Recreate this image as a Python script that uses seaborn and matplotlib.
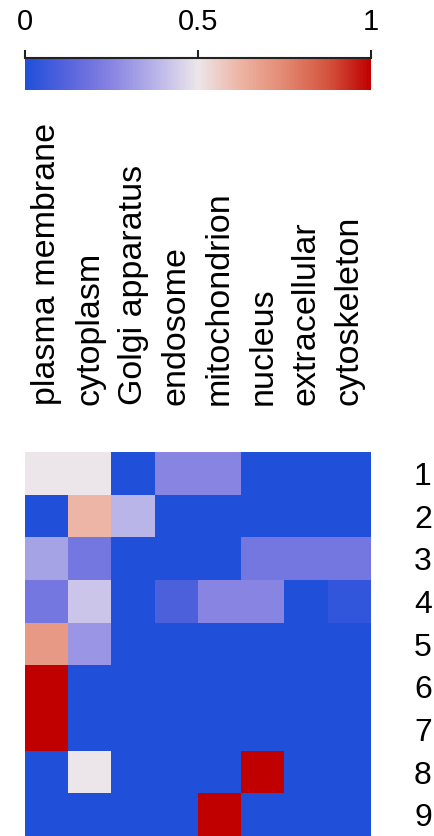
import numpy as np
import pandas as pd
import seaborn as sns
import matplotlib
matplotlib.use("Agg")
import matplotlib.pyplot as plt
from matplotlib.colors import LinearSegmentedColormap

plt.rcParams["font.family"] = ["Liberation Sans", "DejaVu Sans"]

# localisation categories (columns) and clusters (rows)
locations = ["plasma membrane", "cytoplasm", "Golgi apparatus", "endosome",
             "mitochondrion", "nucleus", "extracellular", "cytoskeleton"]
clusters = ["1", "2", "3", "4", "5", "6", "7", "8", "9"]

# fraction per cluster
cluster1 = [0.50, 0.50, 0.00, 0.25, 0.25, 0.00, 0.00, 0.00]
cluster2 = [0.00, 0.62, 0.38, 0.00, 0.00, 0.00, 0.00, 0.00]
cluster3 = [0.33, 0.20, 0.00, 0.00, 0.00, 0.20, 0.20, 0.20]
cluster4 = [0.20, 0.42, 0.00, 0.10, 0.25, 0.25, 0.00, 0.04]
cluster5 = [0.70, 0.30, 0.00, 0.00, 0.00, 0.00, 0.00, 0.00]
cluster6 = [1.00, 0.00, 0.00, 0.00, 0.00, 0.00, 0.00, 0.00]
cluster7 = [1.00, 0.00, 0.00, 0.00, 0.00, 0.00, 0.00, 0.00]
cluster8 = [0.00, 0.50, 0.00, 0.00, 0.00, 1.00, 0.00, 0.00]
cluster9 = [0.00, 0.00, 0.00, 0.00, 1.00, 0.00, 0.00, 0.00]

cbar_ticks = [0, 0.5, 1]
cbar_labels = ["0", "0.5", "1"]

df = pd.DataFrame([cluster1, cluster2, cluster3, cluster4, cluster5,
                   cluster6, cluster7, cluster8, cluster9],
                  index=clusters, columns=locations)

# blue - white - red ramp
cmap = LinearSegmentedColormap.from_list("bwr_lab", [
    (0.0, "#2050DA"),
    (0.125, "#5864DD"),
    (0.25, "#8884E2"),
    (0.375, "#B8B3E9"),
    (0.5, "#ECE6EA"),
    (0.625, "#EDB3A3"),
    (0.75, "#E38972"),
    (0.875, "#D4553F"),
    (1.0, "#C00000"),
])

fig = plt.figure(figsize=(4.35, 8.36), dpi=100)
ax = fig.add_axes([25 / 435, 0, 346 / 435, 384 / 836])
cax = fig.add_axes([25 / 435, (836 - 90) / 836, 346 / 435, 32.3 / 836])

sns.heatmap(df, cmap=cmap, vmin=0, vmax=1, ax=ax, cbar_ax=cax,
            cbar_kws={"orientation": "horizontal", "ticks": cbar_ticks})

# column labels on top, rows on the right
ax.xaxis.tick_top()
ax.set_xticklabels(locations, rotation=90, fontsize=24.5)
ax.tick_params(axis="x", length=0, pad=34)
ax.yaxis.tick_right()
ax.set_yticklabels(clusters, rotation=0, fontsize=23)
ax.tick_params(axis="y", length=0, pad=31)
ax.set_xlabel("")
ax.set_ylabel("")

cbar = ax.collections[0].colorbar
cbar.outline.set_visible(False)
cax.xaxis.set_ticks_position("top")
cax.set_xticks(cbar_ticks)
cax.set_xticklabels(cbar_labels, fontsize=21)
cax.tick_params(axis="x", length=6, width=1.5, pad=9.5, color="#222222")
cax.plot([0, 1], [1, 1], transform=cax.transAxes, color="#222222",
         lw=1.5, clip_on=False)

fig.savefig("out.png", dpi=100)
